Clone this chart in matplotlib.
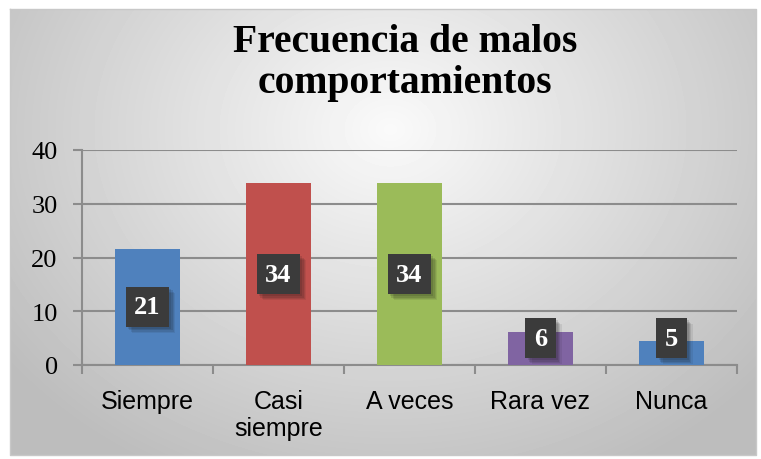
import numpy as np
import matplotlib
matplotlib.use("Agg")
import matplotlib.pyplot as plt
import matplotlib.patheffects as pe

categories = ["Siempre", "Casi\nsiempre", "A veces", "Rara vez", "Nunca"]
heights = [21.6, 33.8, 33.8, 6.1, 4.5]
labels = ["21", "34", "34", "6", "5"]
colors = ["#4F81BD", "#C0504D", "#9BBB59", "#8064A2", "#4F81BD"]
yticks = [0, 10, 20, 30, 40]
title_lines = ["Frecuencia de malos", "comportamientos"]

SERIF = ["Liberation Serif", "DejaVu Serif"]
SANS = ["Liberation Sans", "DejaVu Sans"]

W, H = 761, 460
fig = plt.figure(figsize=(W / 100, H / 100), dpi=100)

# background gradient (chart area)
bg = fig.add_axes([0, 0, 1, 1])
bg.set_xlim(0, W)
bg.set_ylim(H, 0)
bg.axis("off")
yy, xx = np.mgrid[0:446, 0:746]
d = np.sqrt(((xx - 380) / 520.0) ** 2 + ((yy - 120) / 420.0) ** 2)
shade = np.clip(0.98 - 0.26 * d, 0.74, 0.98)
bg.imshow(shade, cmap="gray", vmin=0, vmax=1, extent=(10, 756, 456, 10),
          aspect="auto", interpolation="bilinear")
bg.plot([10, 756, 756, 10, 10], [10, 10, 456, 456, 10], color="#c8c8c8", lw=1)

# title (two lines, baselines placed separately)
bg.text(405, 52, title_lines[0], ha="center", va="baseline", fontsize=28.5,
        fontweight="bold", family=SERIF)
bg.text(405, 93, title_lines[1], ha="center", va="baseline", fontsize=28.5,
        fontweight="bold", family=SERIF)

ax = fig.add_axes([82 / W, 1 - 366 / H, (737 - 82) / W, (366 - 151) / H])
ax.patch.set_alpha(0)
x = np.arange(len(categories))
ax.bar(x, heights, width=0.5, color=colors, zorder=3)
ax.set_xlim(-0.5, len(categories) - 0.5)
ax.set_ylim(0, 40)
ax.set_yticks(yticks)
ax.set_yticklabels([str(v) for v in yticks], fontsize=19, family=SERIF)
ax.yaxis.grid(True, color="#8c8c8c", lw=1.5, zorder=0)
ax.tick_params(axis="y", length=6.5, width=1.5, color="#8c8c8c", pad=11)

ax.set_xticks(x)
ax.set_xticklabels(categories, fontsize=18, family=SANS, va="top")
ax.tick_params(axis="x", length=0, pad=17)
ax.set_xticks(np.arange(len(categories) + 1) - 0.5, minor=True)
ax.tick_params(axis="x", which="minor", length=6.5, width=1.5, color="#8c8c8c")

for s in ["top", "right"]:
    ax.spines[s].set_visible(False)
for s in ["left", "bottom"]:
    ax.spines[s].set_color("#8c8c8c")
    ax.spines[s].set_linewidth(1.5)

# soft-ish shadow: a few stacked translucent offsets
shadow = [pe.SimplePatchShadow(offset=(o, -o), alpha=a)
          for o, a in [(4.5, 0.08), (3.5, 0.1), (2.5, 0.12), (1.5, 0.12)]]

for xi, h, lab in zip(x, heights, labels):
    ypos = max(h / 2, 5.0)
    t = ax.text(xi, ypos, lab, ha="center", va="center", color="white",
                fontsize=19, fontweight="bold", family=SERIF, zorder=5,
                bbox=dict(boxstyle="square,pad=0.32", fc="#3b3b3b", ec="none"))
    t.get_bbox_patch().set_path_effects(shadow + [pe.Normal()])

fig.savefig("out.png", dpi=100)
